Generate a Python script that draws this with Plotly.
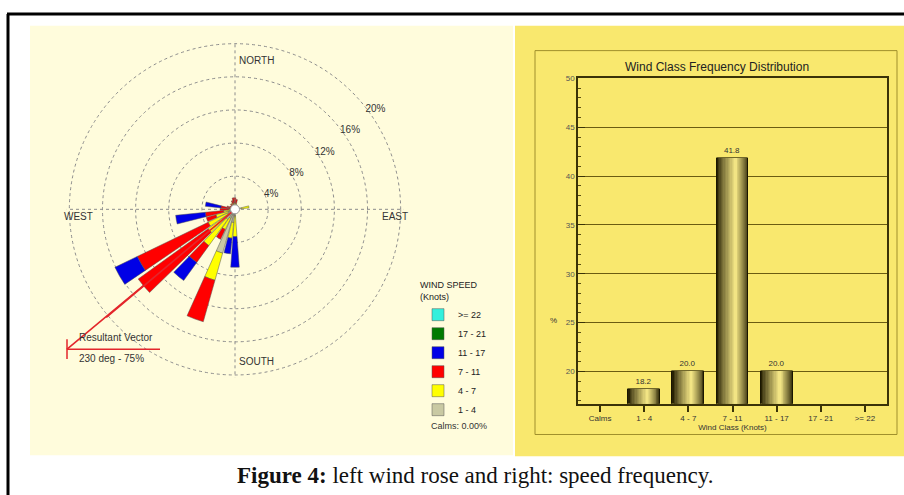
import math
import plotly.graph_objects as go

W, H = 904, 495

# ---------------- data ----------------
directions = list(range(0, 360, 10))
speed_classes = ["1 - 4", "4 - 7", "7 - 11", "11 - 17", "17 - 21", ">= 22"]
class_colors = ["#c9c9a3", "#ffff00", "#ff0000", "#0000e6", "#007a00", "#33f0dc"]

def by_dir(d):
    return [d.get(a, 0.0) for a in directions]

freq_1_4 = by_dir({0: 0.5, 10: 0.4, 20: 0.4, 30: 0.3, 60: 0.3, 70: 0.5, 80: 0.8, 90: 0.3,
                   170: 0.4, 180: 0.8, 190: 1.6, 200: 5.5, 210: 1.2, 220: 1.5, 230: 1.0,
                   240: 1.0, 250: 0.8, 260: 0.6, 270: 0.5, 280: 0.4, 290: 0.4, 300: 0.4,
                   310: 0.5, 320: 0.5, 330: 0.5, 340: 0.6, 350: 0.5})
freq_4_7 = by_dir({0: 0.3, 10: 0.3, 20: 0.2, 80: 0.9, 180: 2.5, 190: 1.9, 200: 3.4,
                   210: 1.5, 220: 3.9, 230: 3.0, 240: 2.6, 250: 1.6, 260: 0.8, 270: 0.3,
                   330: 0.3, 350: 0.3})
freq_7_11 = by_dir({0: 0.6, 10: 0.5, 200: 5.2, 210: 1.3, 220: 2.5, 230: 10.4, 240: 9.5,
                    250: 1.2, 260: 2.2, 270: 1.0, 280: 1.3, 290: 0.6, 300: 0.3, 320: 0.3,
                    340: 0.5, 350: 0.6})
freq_11_17 = by_dir({180: 3.7, 190: 1.9, 220: 2.7, 240: 3.0, 260: 3.6, 280: 1.9})
freq_17_21 = by_dir({})
freq_ge_22 = by_dir({})
rose_series = [freq_1_4, freq_4_7, freq_7_11, freq_11_17, freq_17_21, freq_ge_22]

ring_values = [4, 8, 12, 16, 20]
ring_labels = ["4%", "8%", "12%", "16%", "20%"]
compass_labels = ["NORTH", "EAST", "SOUTH", "WEST"]

resultant_dir = 230
resultant_pct = 75
resultant_len = 26.3
calms_pct = 0.00

wind_classes = ["Calms", "1 - 4", "4 - 7", "7 - 11", "11 - 17", "17 - 21", ">= 22"]
class_freq = [0.0, 18.2, 20.0, 41.8, 20.0, 0.0, 0.0]

# ---------------- helpers ----------------
def px(x):
    return x / W

def py(y):
    return 1 - y / H

FONT = "Arial, Liberation Sans, sans-serif"
CREAM = "#fffcdc"
YELLOW = "#f9e86e"
VEC_RED = "#e3262b"

fig = go.Figure()

R20 = 167.0           # pixel radius of the 20 % ring
rmax = 20.3
Rfull = R20 * rmax / 20
cx, cy = 235, 207
k = R20 / 20          # pixels per percent

# resultant vector, full length, on a hidden cartesian overlay with the same scale
ov_x0, ov_x1 = 0, 500
fig.add_trace(go.Scatter(
    x=[0, resultant_len * math.sin(math.radians(resultant_dir))],
    y=[0, resultant_len * math.cos(math.radians(resultant_dir))],
    mode="lines", line=dict(color=VEC_RED, width=1.6),
    xaxis="x2", yaxis="y2", showlegend=False, hoverinfo="skip",
))

# ---------------- wind rose ----------------
for name, vals, col in zip(speed_classes, rose_series, class_colors):
    fig.add_trace(go.Barpolar(
        r=vals, theta=directions, name=name, width=8.5,
        marker=dict(color=col, line=dict(color="#555555", width=0.5)),
        subplot="polar",
    ))

# part of the vector over the bars
fig.add_trace(go.Scatterpolar(
    r=[0, resultant_len], theta=[resultant_dir, resultant_dir], mode="lines",
    line=dict(color=VEC_RED, width=1.6), showlegend=False,
    subplot="polar", hoverinfo="skip",
))
fig.add_trace(go.Scatterpolar(
    r=[0], theta=[0], mode="markers",
    marker=dict(size=9, color="white", line=dict(color="#999999", width=1)),
    showlegend=False, cliponaxis=False, subplot="polar", hoverinfo="skip",
))

# ---------------- bar chart with cylinder shading ----------------
N = 14
Wb = 0.72
hl = 0.10
dark = (40, 34, 4)
light = (242, 228, 132)
for i in range(N):
    t = i / (N - 1)
    f = t ** 0.8
    col = "rgb(%d,%d,%d)" % tuple(round(dark[j] + (light[j] - dark[j]) * f) for j in range(3))
    w = Wb * (1 - i / N)
    c = hl * Wb * (i / N)
    if i == 0:
        kw = dict(text=[f"{v:.1f}" if v > 0 else "" for v in class_freq],
                  textposition="outside", textfont=dict(size=8, color="#333333", family=FONT),
                  cliponaxis=False,
                  marker=dict(color=col, line=dict(color="#1a1600", width=1)))
    else:
        kw = dict(marker=dict(color=col, line=dict(width=0)))
    fig.add_trace(go.Bar(
        x=wind_classes, y=class_freq, width=w, offset=c - w / 2,
        showlegend=False, hoverinfo="skip", xaxis="x", yaxis="y", **kw,
    ))

# ---------------- layout ----------------
shapes = [
    dict(type="rect", xref="paper", yref="paper", x0=px(30), x1=px(513), y0=py(455), y1=py(22),
         fillcolor=CREAM, line=dict(width=0), layer="below"),
    dict(type="rect", xref="paper", yref="paper", x0=px(515), x1=px(904), y0=py(456), y1=py(22),
         fillcolor=YELLOW, line=dict(width=0), layer="below"),
    dict(type="rect", xref="paper", yref="paper", x0=px(535), x1=px(897), y0=py(434), y1=py(47),
         line=dict(color="#a08f2c", width=1), layer="below"),
    dict(type="line", xref="paper", yref="paper", x0=px(7), x1=px(904), y0=py(10), y1=py(10),
         line=dict(color="black", width=3)),
    dict(type="line", xref="paper", yref="paper", x0=px(8), x1=px(8), y0=py(10), y1=py(495),
         line=dict(color="black", width=3)),
    dict(type="line", xref="paper", yref="paper", x0=px(67), x1=px(67), y0=py(338), y1=py(358),
         line=dict(color=VEC_RED, width=1.5)),
    dict(type="line", xref="paper", yref="paper", x0=px(67), x1=px(160), y0=py(348), y1=py(348),
         line=dict(color=VEC_RED, width=1.5)),
]

def ann(text, x, y, size=10, xanchor="left", color="#333333", family=FONT, **kw):
    return dict(text=text, x=px(x), y=py(y), xref="paper", yref="paper", showarrow=False,
                xanchor=xanchor, yanchor="middle", font=dict(size=size, color=color, family=family), **kw)

annotations = [
    ann(compass_labels[0], 237, 57),
    ann(compass_labels[1], 380, 214),
    ann(compass_labels[2], 237, 360),
    ann(compass_labels[3], 62, 214),
    ann("Resultant Vector", 77, 336),
    ann(f"{resultant_dir} deg - {resultant_pct}%", 77, 357),
    ann(f"Calms: {calms_pct:.2f}%", 429, 425, size=9),
    ann("Wind Class Frequency Distribution", 717, 64, size=12, xanchor="center", color="#222222"),
    ann("%", 553, 319, size=8, xanchor="center"),
    ann("<b>Figure 4:</b> left wind rose and right: speed frequency.", 475, 475, size=23,
        xanchor="center", color="#111111", family="Liberation Serif, Times New Roman, serif"),
]

fig.update_layout(
    width=W, height=H, margin=dict(l=0, r=0, t=0, b=0),
    paper_bgcolor="white", plot_bgcolor="rgba(0,0,0,0)",
    font=dict(family=FONT, size=9, color="#333333"),
    barmode="overlay", bargap=0,
    shapes=shapes, annotations=annotations,
    polar=dict(
        domain=dict(x=[px(cx - Rfull), px(cx + Rfull)], y=[py(cy + Rfull), py(cy - Rfull)]),
        bgcolor="rgba(0,0,0,0)",
        barmode="stack",
        radialaxis=dict(range=[0, rmax], tickvals=ring_values, ticktext=ring_labels,
                        showline=False, ticks="", angle=40, tickangle=40,
                        gridcolor="#8c8c8c", griddash="dot", gridwidth=1,
                        tickfont=dict(size=10, color="#333333", family=FONT)),
        angularaxis=dict(rotation=90, direction="clockwise", tickvals=[0, 90, 180, 270],
                         showticklabels=False, ticks="", showline=False,
                         gridcolor="#8c8c8c", griddash="dot", gridwidth=1),
    ),
    xaxis2=dict(domain=[px(ov_x0), px(ov_x1)], range=[(ov_x0 - cx) / k, (ov_x1 - cx) / k],
                visible=False, fixedrange=True),
    yaxis2=dict(domain=[0, 1], range=[(cy - H) / k, cy / k], visible=False, fixedrange=True,
                anchor="x2"),
    xaxis=dict(domain=[px(578), px(887)], type="category", categoryorder="array",
               categoryarray=wind_classes, range=[-0.5, 6.5],
               showline=True, linecolor="#3a3208", linewidth=2, mirror=True,
               ticks="outside", ticklen=6, tickcolor="#3a3208", tickwidth=1.5,
               tickfont=dict(size=8, color="#333333"),
               title=dict(text="Wind Class (Knots)", font=dict(size=8, color="#333333"), standoff=2),
               showgrid=False, zeroline=False, fixedrange=True),
    yaxis=dict(domain=[py(403), py(75)], range=[16.7, 50], tick0=0, dtick=5,
               showline=True, linecolor="#3a3208", linewidth=1.5, mirror=True,
               ticks="inside", ticklen=7, tickcolor="#3a3208",
               minor=dict(dtick=1, ticks="inside", ticklen=3, tickcolor="#5a4e10", showgrid=False),
               gridcolor="#6b5c12", gridwidth=1, zeroline=False,
               tickfont=dict(size=8, color="#555555"), fixedrange=True),
    legend=dict(x=px(418), y=py(275), xanchor="left", yanchor="top",
                traceorder="reversed", bgcolor="rgba(0,0,0,0)",
                font=dict(size=9, color="#222222", family=FONT),
                title=dict(text="WIND SPEED<br>(Knots)", font=dict(size=9, color="#222222")),
                itemclick=False, itemdoubleclick=False),
)

fig.write_html("out.html")
